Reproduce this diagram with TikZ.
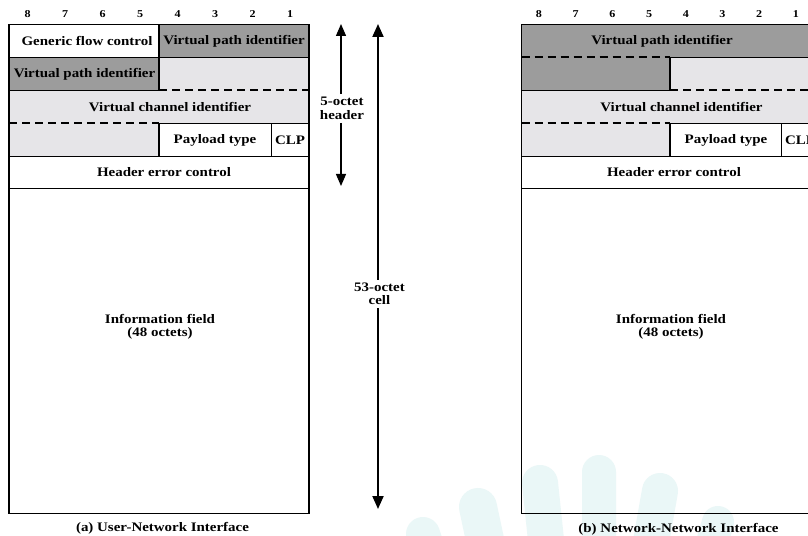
\documentclass[tikz,border=0pt]{standalone}
\usepackage{fontspec}
\setmainfont{Liberation Serif}[FakeStretch=1.15]
\usetikzlibrary{arrows.meta}
\definecolor{vpgray}{HTML}{9C9C9C}
\definecolor{vcgray}{HTML}{E6E5E8}
\definecolor{wmark}{HTML}{EAF7F7}
\tikzset{
  lbl/.style={font=\bfseries\fontsize{13bp}{13.5bp}\selectfont, inner sep=0pt, align=center},
  bitno/.style={font=\bfseries\fontsize{10.5bp}{12bp}\selectfont, inner sep=0pt},
  spanlbl/.style={lbl, inner xsep=0pt, inner ysep=3bp},
  frame/.style={line width=1.8bp},
  split/.style={line width=2bp, dash pattern=on 8bp off 5bp},
  hdrspan/.style={-{Triangle[width=10bp,length=12bp]}, line width=1.3bp},
  cellspan/.style={-{Triangle[width=11bp,length=13bp]}, line width=2bp},
  finger/.style={fill=wmark},
}
% one finger of the background watermark: centre x, top y, width, tilt
\newcommand\wmfinger[4]{%
  \fill[finger, rotate around={#4:(#1,#2+#3/2)}, rounded corners=#3/2*1bp]
    ({#1-#3/2},#2) rectangle ({#1+#3/2},#2+160);}
\begin{document}
\begin{tikzpicture}[x=1bp,y=-1bp]
\useasboundingbox (0,0) rectangle (808,536);
\clip (0,0) rectangle (808,536);
\fill[white] (0,0) rectangle (808,536);

% faint hand-shaped watermark in the background
\wmfinger{423}{517}{34}{18}
\wmfinger{478}{488}{38}{12}
\wmfinger{540}{465}{36}{6}
\wmfinger{599}{455}{34}{0}
\wmfinger{660}{473}{36}{-10}
\wmfinger{718}{506}{32}{-16}

% ---------- (a) User-Network Interface ----------
\fill[vpgray] (159,24.5) rectangle (309,57.5);
\fill[vpgray] (9,57.5) rectangle (159,90.5);
\fill[vcgray] (159,57.5) rectangle (309,90.5);
\fill[vcgray] (9,90.5) rectangle (309,123.5);
\fill[vcgray] (9,123.5) rectangle (159,156.5);

\draw[frame] (9,24.5) rectangle (309,513.5);
\draw[frame] (9,57.5) -- (309,57.5);
\draw[frame] (159,24.5) -- (159,90.5);
\draw[frame] (9,90.5) -- (159,90.5);
\draw[split] (159,90.5) -- (309,90.5);
\draw[split] (9,123.5) -- (159,123.5);
\draw[frame] (159,123.5) -- (309,123.5);
\draw[frame] (159,123.5) -- (159,156.5);
\draw[frame] (271.5,123.5) -- (271.5,156.5);
\draw[frame] (9,156.5) -- (309,156.5);
\draw[frame] (9,188.5) -- (309,188.5);

\foreach \n [count=\k from 0] in {8,7,6,5,4,3,2,1}
  \node[bitno] (la\n) at ({27.75+37.5*\k},14) {\n};

\node[lbl] (gfc)  at (87,41)    {Generic flow control};
\node[lbl] (vpa1) at (234,41)   {Virtual path identifier};
\node[lbl] (vpa2) at (84.5,74)  {Virtual path identifier};
\node[lbl] (vca)  at (170,107)  {Virtual channel identifier};
\node[lbl] (pta)  at (215,140)  {Payload type};
\node[lbl] (clpa) at (290,140)  {CLP};
\node[lbl] (heca) at (164,172.5){Header error control};
\node[lbl] (infa) at (160,327)  {Information field\\(48 octets)};
\node[lbl] (capa) at (162.5,528){(a) User-Network Interface};

% ---------- length markers ----------
\coordinate (hdrtop) at (341,24);
\coordinate (hdrbot) at (341,186);
\node[spanlbl] (hdr) at (342,108.5) {5-octet\\header};
\draw[hdrspan] (hdrtop |- hdr.north) -- (hdrtop);
\draw[hdrspan] (hdrbot |- hdr.south) -- (hdrbot);

\coordinate (celltop) at (378,24);
\coordinate (cellbot) at (378,509);
\node[spanlbl] (cell) at (379.5,294) {53-octet\\cell};
\draw[cellspan] (celltop |- cell.north) -- (celltop);
\draw[cellspan] (cellbot |- cell.south) -- (cellbot);

% ---------- (b) Network-Network Interface ----------
\fill[vpgray] (521.5,24.5) rectangle (818.5,57.5);
\fill[vpgray] (521.5,57.5) rectangle (670,90.5);
\fill[vcgray] (670,57.5) rectangle (818.5,90.5);
\fill[vcgray] (521.5,90.5) rectangle (818.5,123.5);
\fill[vcgray] (521.5,123.5) rectangle (670,156.5);

\draw[frame] (521.5,24.5) rectangle (818.5,513.5);
\draw[split] (521.5,57.5) -- (670,57.5);
\draw[frame] (670,57.5) -- (818.5,57.5);
\draw[frame] (670,57.5) -- (670,90.5);
\draw[frame] (521.5,90.5) -- (670,90.5);
\draw[split] (670,90.5) -- (818.5,90.5);
\draw[split] (521.5,123.5) -- (670,123.5);
\draw[frame] (670,123.5) -- (818.5,123.5);
\draw[frame] (670,123.5) -- (670,156.5);
\draw[frame] (781.5,123.5) -- (781.5,156.5);
\draw[frame] (521.5,156.5) -- (818.5,156.5);
\draw[frame] (521.5,188.5) -- (818.5,188.5);

\foreach \n [count=\k from 0] in {8,7,6,5,4,3,2,1}
  \node[bitno] (lb\n) at ({539+36.7*\k},14) {\n};

\node[lbl] (vpb)  at (662,41)    {Virtual path identifier};
\node[lbl] (vcb)  at (681.5,107) {Virtual channel identifier};
\node[lbl] (ptb)  at (726,140)   {Payload type};
\node[lbl] (clpb) at (800,140)   {CLP};
\node[lbl] (hecb) at (674,172.5) {Header error control};
\node[lbl] (infb) at (671,327)   {Information field\\(48 octets)};
\node[lbl] (capb) at (678.5,529) {(b) Network-Network Interface};
\end{tikzpicture}
\end{document}
